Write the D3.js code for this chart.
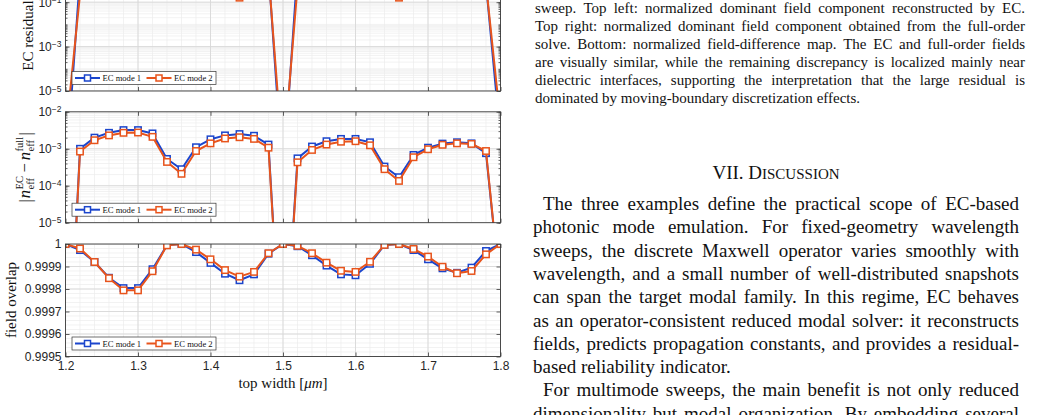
<!DOCTYPE html>
<html>
<head>
<meta charset="utf-8">
<script src="https://cdn.jsdelivr.net/npm/d3@7"></script>
<style>
  body { margin: 0; background: #fff; }
  svg { display: block; }
</style>
</head>
<body>
<div id="page"></div>
<script>
// sweep positions (top width, um)
const widths = [1.20, 1.22, 1.24, 1.26, 1.28, 1.30, 1.32, 1.34, 1.36, 1.38, 1.40,
                1.42, 1.44, 1.46, 1.48, 1.50, 1.52, 1.54, 1.56, 1.58, 1.60,
                1.62, 1.64, 1.66, 1.68, 1.70, 1.72, 1.74, 1.76, 1.78, 1.80];

// EC residual (top panel, mostly above the visible area)
const residualMode1 = [1e-9, 1.5, 1.2, 1.5, 1.8, 1.5, 0.9, 0.5, 0.4, 0.8, 1.0,
                       0.7, 0.3, 0.9, 2.5, 1e-9, 3.0, 1.4, 1.5, 1.2, 1.0,
                       0.6, 0.4, 0.3, 0.5, 0.9, 1.1, 1.1, 1.0, 0.66, 7e-8];
const residualMode2 = [9e-8, 0.22, 0.5, 0.9, 1.2, 1.0, 0.6, 0.3, 0.25, 0.5, 0.7,
                       0.45, 0.16, 0.6, 2.0, 6e-9, 0.5, 0.9, 1.1, 0.9, 0.7,
                       0.4, 0.25, 0.16, 0.35, 0.6, 0.8, 0.8, 0.7, 0.66, 4e-7];

// |neff EC - neff full|
const neffErrMode1 = [1.5e-11, 1.0e-3, 2.0e-3, 2.7e-3, 3.2e-3, 3.2e-3, 2.6e-3, 5.3e-4, 2.8e-4, 1.1e-3, 1.8e-3,
                      2.3e-3, 2.5e-3, 2.25e-3, 1.3e-3, 3e-10, 5.5e-4, 1.15e-3, 1.6e-3, 1.85e-3, 1.85e-3,
                      1.5e-3, 3.3e-4, 1.7e-4, 6.8e-4, 1.07e-3, 1.38e-3, 1.5e-3, 1.4e-3, 7.6e-4, 1.2e-7];
const neffErrMode2 = [1.5e-11, 8.4e-4, 1.7e-3, 2.3e-3, 2.7e-3, 2.75e-3, 2.1e-3, 4.4e-4, 2.1e-4, 8.7e-4, 1.4e-3,
                      1.9e-3, 2.05e-3, 1.85e-3, 1.07e-3, 3e-10, 4.3e-4, 9.3e-4, 1.3e-3, 1.55e-3, 1.6e-3,
                      1.24e-3, 2.8e-4, 1.35e-4, 5.9e-4, 9.7e-4, 1.28e-3, 1.4e-3, 1.35e-3, 8.7e-4, 1.2e-7];

// field overlap
const overlapMode1 = [1.0, 0.999973, 0.99992, 0.99985, 0.999804, 0.999804, 0.999888, 0.999995, 1.0, 0.999964, 0.999916,
                      0.999868, 0.999839, 0.999865, 0.999957, 1.0, 0.99999, 0.99995, 0.999904, 0.999865, 0.999861,
                      0.999912, 0.999996, 1.0, 0.999973, 0.999932, 0.999892, 0.999872, 0.999895, 0.999969, 1.0];
const overlapMode2 = [1.0, 0.99998, 0.99992, 0.999848, 0.999794, 0.999794, 0.999879, 0.999994, 1.0, 0.999975, 0.999932,
                      0.999884, 0.999855, 0.999876, 0.999959, 1.0, 0.999992, 0.999959, 0.999917, 0.999881, 0.999876,
                      0.999921, 0.999996, 1.0, 0.999978, 0.999944, 0.999899, 0.99987, 0.99988, 0.999954, 1.0];

const legendNames = ["EC mode 1", "EC mode 2"];

const captionLines = [
  "sweep. Top left: normalized dominant field component reconstructed by EC.",
  "Top right: normalized dominant field component obtained from the full-order",
  "solve. Bottom: normalized field-difference map. The EC and full-order fields",
  "are visually similar, while the remaining discrepancy is localized mainly near",
  "dielectric interfaces, supporting the interpretation that the large residual is",
  "dominated by moving-boundary discretization effects."
];
const bodyLines = [
  "The three examples define the practical scope of EC-based",
  "photonic mode emulation. For fixed-geometry wavelength",
  "sweeps, the discrete Maxwell operator varies smoothly with",
  "wavelength, and a small number of well-distributed snapshots",
  "can span the target modal family. In this regime, EC behaves",
  "as an operator-consistent reduced modal solver: it reconstructs",
  "fields, predicts propagation constants, and provides a residual-",
  "based reliability indicator.",
  "For multimode sweeps, the main benefit is not only reduced",
  "dimensionality but modal organization. By embedding several"
];
const bodyIndent = [true, false, false, false, false, false, false, false, true, false];
const bodyJustify = [true, true, true, true, true, true, true, false, true, true];

const blue = "#1b45cc", orange = "#e8541c";
const sans = "'Liberation Sans', Arial, sans-serif";
const serif = "'Liberation Serif', 'Times New Roman', serif";

const svg = d3.select("#page").append("svg")
    .attr("width", 1042).attr("height", 415)
    .style("background", "#fff");
const defs = svg.append("defs");

const x = d3.scaleLinear().domain([1.2, 1.8]).range([65.5, 500.5]);
const [xl, xr] = x.range();

const panels = [
  {key: "res", top: -20, bottom: 91, log: true, domain: [1e-5, 1], majors: [1e-5, 1e-3, 1e-1],
   s1: residualMode1, s2: residualMode2},
  {key: "neff", top: 111.8, bottom: 222.7, log: true, domain: [1e-5, 1e-2], majors: [1e-5, 1e-4, 1e-3, 1e-2],
   s1: neffErrMode1, s2: neffErrMode2},
  {key: "ovl", top: 244, bottom: 356.5, log: false, domain: [0.9995, 1],
   s1: overlapMode1, s2: overlapMode2}
];

function logMinors(domain) {
  let out = [];
  const e0 = Math.floor(Math.log10(domain[0])), e1 = Math.ceil(Math.log10(domain[1]));
  for (let e = e0; e <= e1; e++) {
    for (let n = 1; n <= 9; n++) {
      const v = n * Math.pow(10, e);
      if (v >= domain[0] * 0.999 && v <= domain[1] * 1.001) out.push(v);
    }
  }
  return out;
}

const supMinus = s => s.replace("-", "\u2212");

panels.forEach((p, pi) => {
  const y = (p.log ? d3.scaleLog() : d3.scaleLinear()).domain(p.domain).range([p.bottom, p.top]);
  const g = svg.append("g").attr("class", "panel-" + p.key);

  defs.append("clipPath").attr("id", "clip-" + p.key)
    .append("rect").attr("x", xl).attr("y", p.top)
    .attr("width", xr - xl).attr("height", p.bottom - p.top);

  const yMinor = p.log ? logMinors(p.domain) : y.ticks(25);
  const yMajor = p.log ? p.majors : y.ticks(5);

  // grid
  const grid = g.append("g").attr("clip-path", "url(#clip-" + p.key + ")");
  grid.selectAll(".vminor").data(x.ticks(30)).join("line")
    .attr("x1", d => x(d)).attr("x2", d => x(d)).attr("y1", p.top).attr("y2", p.bottom)
    .attr("stroke", "#ececec").attr("stroke-width", 0.7);
  grid.selectAll(".hminor").data(yMinor).join("line")
    .attr("x1", xl).attr("x2", xr).attr("y1", d => y(d)).attr("y2", d => y(d))
    .attr("stroke", "#ececec").attr("stroke-width", 0.7);
  grid.selectAll(".vmajor").data(x.ticks(6)).join("line")
    .attr("x1", d => x(d)).attr("x2", d => x(d)).attr("y1", p.top).attr("y2", p.bottom)
    .attr("stroke", "#d8d8d8").attr("stroke-width", 0.9);
  grid.selectAll(".hmajor").data(yMajor).join("line")
    .attr("x1", xl).attr("x2", xr).attr("y1", d => y(d)).attr("y2", d => y(d))
    .attr("stroke", "#d8d8d8").attr("stroke-width", 0.9);

  // data
  const line = d3.line().x((d, i) => x(widths[i])).y(d => y(d));
  const plot = g.append("g").attr("clip-path", "url(#clip-" + p.key + ")");
  [[p.s1, blue], [p.s2, orange]].forEach(([vals, col]) => {
    plot.append("path").datum(vals)
      .attr("d", line).attr("fill", "none")
      .attr("stroke", col).attr("stroke-width", 2).attr("stroke-linejoin", "round");
    plot.selectAll(null).data(vals).join("rect")
      .attr("x", (d, i) => x(widths[i]) - 3.2).attr("y", d => y(d) - 3.2)
      .attr("width", 6.4).attr("height", 6.4)
      .attr("fill", "#fff").attr("stroke", col).attr("stroke-width", 1.5);
  });

  // axes: inward ticks on all sides
  const axCol = "#3a3a3a";
  const styleAxis = sel => {
    sel.select(".domain").remove();
    sel.selectAll(".tick line").attr("stroke", axCol).attr("stroke-width", 0.8);
  };
  g.append("g").attr("transform", `translate(${xl},0)`)
    .call(d3.axisLeft(y).tickValues(yMajor).tickSize(-4).tickPadding(4).tickFormat(() => ""))
    .call(styleAxis)
    .call(a => {
      a.selectAll(".tick text").each(function(d) {
        const t = d3.select(this).attr("font-family", sans).attr("font-size", 12).attr("fill", "#262626");
        if (p.log) {
          const e = Math.round(Math.log10(d));
          t.append("tspan").text("10");
          t.append("tspan").attr("dy", "-0.45em").attr("font-size", 8.5).text(supMinus(String(e)));
        } else {
          t.text(d >= 0.99999 ? "1" : d3.format(".4f")(d));
        }
      });
    });
  g.append("g").attr("transform", `translate(${xr},0)`)
    .call(d3.axisRight(y).tickValues(yMajor).tickSize(-4).tickFormat(""))
    .call(styleAxis);
  if (p.log) {
    [[xl, d3.axisLeft], [xr, d3.axisRight]].forEach(([px, ax]) => {
      g.append("g").attr("transform", `translate(${px},0)`)
        .call(ax(y).tickValues(yMinor).tickSize(-2).tickFormat(""))
        .call(styleAxis);
    });
  }
  g.append("g").attr("transform", `translate(0,${p.top})`)
    .call(d3.axisTop(x).ticks(6).tickSize(-4).tickFormat(""))
    .call(styleAxis);
  const bottomAxis = g.append("g").attr("transform", `translate(0,${p.bottom})`)
    .call(d3.axisBottom(x).ticks(6).tickSize(-4).tickPadding(5)
      .tickFormat(pi === 2 ? d3.format(".1f") : ""))
    .call(styleAxis);
  bottomAxis.selectAll(".tick text").attr("font-family", sans).attr("font-size", 12).attr("fill", "#262626");

  g.append("rect").attr("x", xl).attr("y", p.top)
    .attr("width", xr - xl).attr("height", p.bottom - p.top)
    .attr("fill", "none").attr("stroke", axCol).attr("stroke-width", 0.9);

  // legend
  const lg = g.append("g").attr("transform", `translate(72,${p.bottom - 19.5})`);
  lg.append("rect").attr("width", 144).attr("height", 13)
    .attr("fill", "#fff").attr("stroke", "#333").attr("stroke-width", 0.7);
  [[blue, 3, legendNames[0]], [orange, 74.5, legendNames[1]]].forEach(([col, ox, name]) => {
    lg.append("line").attr("x1", ox).attr("x2", ox + 25).attr("y1", 6.5).attr("y2", 6.5)
      .attr("stroke", col).attr("stroke-width", 2);
    lg.append("rect").attr("x", ox + 12.5 - 3).attr("y", 3.5).attr("width", 6).attr("height", 6)
      .attr("fill", "#fff").attr("stroke", col).attr("stroke-width", 1.5);
    lg.append("text").attr("x", ox + 27.5).attr("y", 9.5)
      .attr("font-family", serif).attr("font-size", 8.6).attr("fill", "#111").text(name);
  });
});

// axis titles
svg.append("text")
  .attr("transform", "translate(33,35.5) rotate(-90)")
  .attr("text-anchor", "middle").attr("font-family", serif).attr("font-size", 15)
  .attr("fill", "#111").text("EC residual");
svg.append("text")
  .attr("transform", "translate(15.5,300) rotate(-90)")
  .attr("text-anchor", "middle").attr("font-family", serif).attr("font-size", 15)
  .attr("fill", "#111").text("field overlap");
const xt = svg.append("text").attr("x", x(1.5)).attr("y", 388)
  .attr("text-anchor", "middle").attr("font-family", serif).attr("font-size", 15).attr("fill", "#111");
xt.append("tspan").text("top width [");
xt.append("tspan").attr("font-style", "italic").text("\u03bcm");
xt.append("tspan").text("]");

// |n_eff^EC - n_eff^full| label, laid out piece by piece
(function() {
  const g = svg.append("g").attr("transform", "translate(29.5,167.3) rotate(-90)");
  let cx = 0;
  const put = (txt, size, dy, italic) => {
    const t = g.append("text").attr("x", cx).attr("y", dy)
      .attr("font-family", serif).attr("font-size", size).attr("fill", "#111")
      .attr("font-style", italic ? "italic" : "normal").text(txt);
    return t.node().getComputedTextLength();
  };
  const stack = (sup, sub) => {
    const w1 = put(sup, 10.5, -7), w2 = put(sub, 10.5, 4);
    cx += Math.max(w1, w2) + 1.5;
  };
  cx += put("|", 16.5, 1) + 1;
  cx += put("n", 16.5, 0, true) + 0.5;
  stack("EC", "eff");
  cx += 2;
  cx += put("\u2212", 16.5, 0) + 3;
  cx += put("n", 16.5, 0, true) + 0.5;
  stack("full", "eff");
  cx += put("|", 16.5, 1);
  g.selectAll("text").attr("x", function() { return +d3.select(this).attr("x") - cx / 2; });
})();

// right column text
function textLine(str, x0, x1, base, size, justify) {
  const words = str.split(" ");
  const g = svg.append("g");
  const nodes = words.map(w => g.append("text").attr("y", base)
    .attr("font-family", serif).attr("font-size", size).attr("fill", "#111").text(w));
  const ws = nodes.map(n => n.node().getComputedTextLength());
  const total = d3.sum(ws);
  const gap = justify ? (x1 - x0 - total) / (words.length - 1) : size * 0.25;
  let cx = x0;
  nodes.forEach((n, i) => { n.attr("x", cx); cx += ws[i] + gap; });
}

captionLines.forEach((s, i) => {
  textLine(s, 535, 1025, 13 + i * 18, 15, i < captionLines.length - 1);
});

const head = svg.append("text").attr("x", 776).attr("y", 179).attr("text-anchor", "middle")
  .attr("font-family", serif).attr("font-size", 19).attr("fill", "#111");
head.append("tspan").text("VII. D");
head.append("tspan").attr("font-size", 15).text("ISCUSSION");

bodyLines.forEach((s, i) => {
  const x0 = bodyIndent[i] ? 543 : 533;
  textLine(s, x0, 1019, 210 + i * 23.3, 19, bodyJustify[i]);
});
</script>
</body>
</html>
